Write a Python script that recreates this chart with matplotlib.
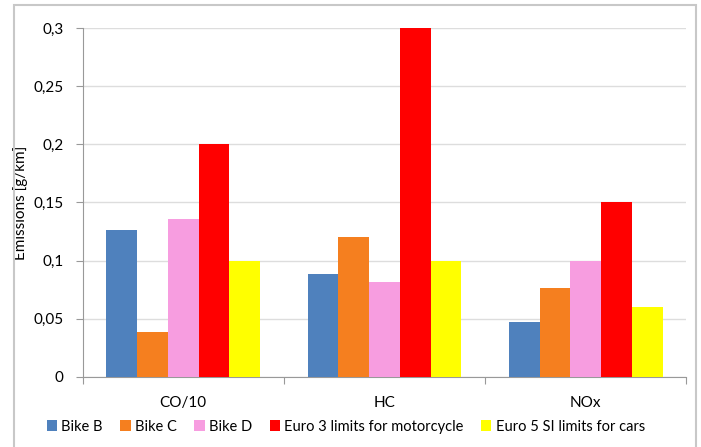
import matplotlib.pyplot as plt
import numpy as np
from matplotlib.patches import Rectangle
from matplotlib.ticker import FuncFormatter

plt.rcParams['font.family'] = ['Lato', 'DejaVu Sans']

categories = ['CO/10', 'HC', 'NOx']
series = ['Bike B', 'Bike C', 'Bike D', 'Euro 3 limits for motorcycle', 'Euro 5 SI limits for cars']
bike_b = [0.126, 0.0885, 0.047]
bike_c = [0.0385, 0.120, 0.0765]
bike_d = [0.136, 0.082, 0.100]
euro3 = [0.200, 0.300, 0.150]
euro5 = [0.100, 0.100, 0.060]
colors = ['#4f81bd', '#f57f1f', '#f79de0', '#ff0000', '#ffff00']

values = [bike_b, bike_c, bike_d, euro3, euro5]

fig = plt.figure(figsize=(7.01, 4.47), dpi=100)
ax = fig.add_axes([0.118, 0.157, 0.861, 0.780])

x = np.arange(len(categories))
w = 0.153
for i, (vals, name, col) in enumerate(zip(values, series, colors)):
    ax.bar(x + (i - 2) * w, vals, w, color=col, label=name, zorder=3)

ax.set_xlim(-0.5, 2.5)
ax.set_ylim(0, 0.3)
ax.set_yticks(np.arange(0, 0.301, 0.05))
ax.yaxis.set_major_formatter(FuncFormatter(
    lambda v, p: '0' if abs(v) < 1e-9 else ('%g' % round(v, 3)).replace('.', ',')))
ax.set_xticks([-0.5, 0.5, 1.5, 2.5])
ax.set_xticklabels([])
ax.tick_params(axis='x', length=5, color='#999999', direction='out')
ax.tick_params(axis='y', length=5, color='#999999', labelsize=11, pad=9)
for i, c in enumerate(categories):
    ax.text(i, -0.0745, c, ha='center', va='center', fontsize=11,
            transform=ax.get_xaxis_transform())

ax.grid(axis='y', color='#dddddd', linewidth=1, zorder=0)
for s in ['top', 'right']:
    ax.spines[s].set_visible(False)
for s in ['left', 'bottom']:
    ax.spines[s].set_color('#999999')

ax.set_ylabel('Emissions [g/km]', fontsize=11)
ax.yaxis.set_label_coords(-0.09, 0.5)

ax.legend(loc='center', bbox_to_anchor=(0.436, -0.143), ncol=5, frameon=False,
          fontsize=10.5, handlelength=0.7, handleheight=0.7, handletextpad=0.3,
          columnspacing=1.2)

fig.patches.append(Rectangle((14 / 701, -0.1), 682 / 701, 1.1 - 5 / 447,
                             transform=fig.transFigure, fill=False,
                             edgecolor='#c8c8c8', linewidth=1.5))

fig.savefig('out.png', dpi=100)
